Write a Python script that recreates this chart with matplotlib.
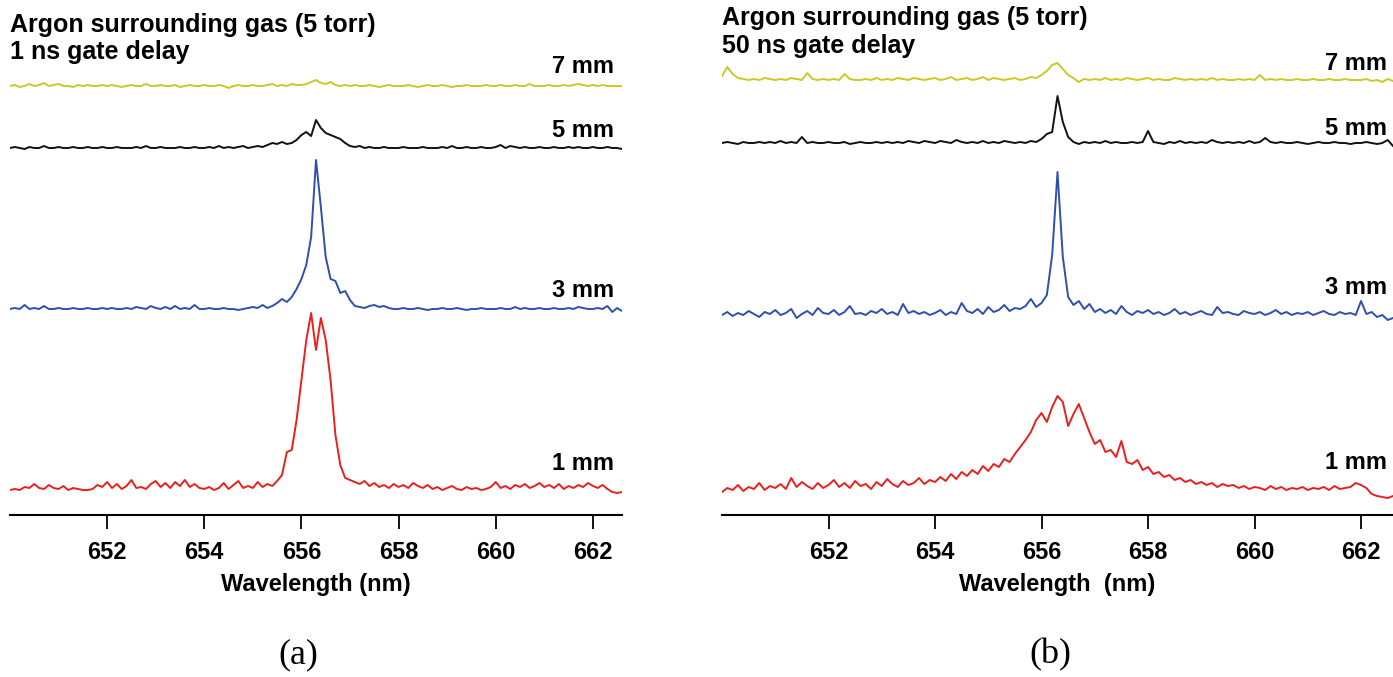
import numpy as np
import matplotlib.pyplot as plt

plt.rcParams['font.family'] = ['Liberation Sans', 'DejaVu Sans']

# wavelength grid, nm
wl = np.round(np.arange(650.0, 662.65, 0.1), 1)

# (a) argon 5 torr, 1 ns gate delay  (intensity, arb. units)
a_7mm = [0, 1, -1, 0, 2, 0, 1, 3, 0, 1,
         2, 0, 0, -1, 1, 0, 1, 0, 0, 1,
         0, 1, 0, -1, 0, 1, 0, 0, 2, 0,
         0, 1, 0, 0, 1, -1, 0, 1, 0, 0,
         1, 0, 0, 1, 0, -2, 0, 1, 0, 0,
         1, 0, 0, 1, 2, 0, 1, 0, 2, 1,
         1, 2, 4, 6, 3, 2, 4, 1, 0, 1,
         0, 1, 0, 0, 1, 0, -1, 0, 1, 0,
         0, 0, 1, 0, -1, 0, 1, 0, 0, 1,
         0, -1, 0, 0, 1, 0, 0, 0, 1, 0,
         0, 1, 0, 0, 1, 0, 0, 2, 0, 0,
         0, 1, 0, 0, 1, 0, 1, 2, 1, 0,
         1, 0, 1, 0, 0, 0, 0]
a_5mm = [0, 1, 0, -1, 1, 0, 0, 2, 0, 0,
         1, 0, 0, 1, 0, 0, 1, 0, 0, 1,
         0, 0, 1, 0, 0, 0, 1, 0, 2, 0,
         0, 1, 0, 0, 0, 1, 0, 0, 1, 0,
         0, 1, 0, 2, 0, 1, 0, 1, 2, 0,
         1, 2, 1, 3, 5, 4, 6, 4, 5, 8,
         13, 16, 12, 28, 20, 15, 13, 11, 9, 5,
         2, 1, 2, 0, 1, 0, 0, 1, 0, 0,
         0, 1, 0, 0, 0, 1, 0, 0, 0, 1,
         0, 2, 0, 0, 1, 0, 0, 1, 0, 0,
         1, 3, 0, 2, 1, 0, 1, 0, 0, 1,
         0, 0, 1, 0, 0, 1, 0, 1, 0, 0,
         1, 0, 0, 1, 0, 0, -1]
a_3mm = [0, 1, 0, 4, 0, 1, 0, 3, 0, 0,
         1, 0, 0, 1, 0, 0, 1, 0, 0, 1,
         0, 1, 0, 0, 1, 0, 2, 1, 0, 3,
         1, 0, 2, 0, 3, 0, 1, 0, 4, 0,
         0, 1, 0, 0, 1, 0, 0, -1, 0, 1,
         2, 1, 4, 1, 3, 6, 10, 7, 12, 20,
         30, 44, 72, 149, 102, 52, 30, 28, 16, 18,
         9, 3, 2, 1, 3, 4, 2, 3, 1, 0,
         0, 1, 0, 0, 1, 0, -1, 0, 0, 1,
         0, 0, 1, 0, -1, 0, 0, 1, 0, 0,
         0, 1, 0, 0, 2, 0, 1, 0, 0, 1,
         0, 0, 1, 0, 0, 1, 0, 2, 1, 0,
         0, 1, 0, 3, -3, 1, -2]
a_1mm = [0, 1, 0, 3, 2, 6, 2, 1, 5, 2,
         1, 4, 0, 2, 1, 0, 0, 1, 5, 3,
         8, 2, 6, 1, 4, 10, 2, 3, 1, 6,
         9, 3, 7, 2, 8, 4, 10, 3, 6, 2,
         1, 3, 0, 2, 7, 1, 5, 9, 2, 4,
         2, 8, 3, 6, 4, 9, 15, 38, 40, 70,
         110, 150, 177, 140, 172, 150, 110, 55, 25, 12,
         10, 8, 6, 9, 4, 7, 3, 5, 2, 6,
         3, 5, 2, 7, 4, 2, 5, 1, 3, 0,
         2, 4, 1, 0, 3, 1, 2, 0, 1, 3,
         8, 2, 4, 1, 5, 3, 6, 2, 4, 7,
         3, 5, 2, 6, 1, 4, 2, 5, 3, 7,
         4, 2, 5, 1, -2, -3, -2]

# (b) argon 5 torr, 50 ns gate delay
b_7mm = [4, 13, 6, 2, 1, 0, 1, 0, 2, 1,
         0, 1, 0, 2, 1, 0, 7, 1, 0, 1,
         0, 1, 0, 6, 1, 0, 0, 1, 0, 2,
         0, 1, 0, 2, 1, 0, 2, 1, 0, 1,
         2, 0, 1, 3, 0, 1, 2, 0, 1, 3,
         0, 2, 1, 0, 1, 2, 0, 1, 3, 2,
         5, 9, 15, 17, 11, 5, 2, -2, 1, 0,
         1, 0, 2, 0, 1, 0, 2, 1, 0, 1,
         2, 0, 1, 0, 0, 2, 1, 0, 1, 0,
         1, 0, 2, 0, 1, 0, 0, 1, 0, 1,
         0, 5, 0, 1, 0, 1, 0, 0, 1, 0,
         0, 1, 0, 0, 1, 0, 0, 1, 0, 0,
         0, 1, -1, 0, -2, 1, -1]
b_5mm = [0, 1, 0, -1, 1, 0, 0, 1, 0, 1,
         0, 2, 0, 1, 0, 6, 0, 1, 0, 0,
         1, 0, 0, 1, -1, 0, 1, 0, 0, 1,
         0, 1, 0, 1, 0, 2, 1, 0, 2, 1,
         0, 2, 1, 0, 3, 1, 0, 1, 0, 2,
         0, 1, 0, 2, 1, 0, 1, 0, 2, 1,
         4, 9, 11, 47, 21, 6, 1, -1, 1, 0,
         1, 0, 2, 0, 1, 0, 0, 1, 0, 1,
         12, 1, 0, -1, 1, 0, 2, 0, 1, 0,
         1, 0, 3, 1, 0, 1, 0, 1, 0, 2,
         0, 1, 5, 1, 0, 1, 0, 0, 1, 0,
         -1, 0, 1, 0, 0, 1, 0, 0, -1, 0,
         0, 1, 0, -1, 0, 3, -3]
b_3mm = [0, 3, -1, 2, 0, 4, 1, -2, 3, 1,
         5, 0, 2, 6, -3, 1, 4, 0, 7, 2,
         1, 5, 0, 3, 9, 1, 2, 0, 4, 2,
         6, 1, 3, 0, 11, 2, 4, 1, 3, 0,
         2, 5, 0, 3, 1, 12, 4, 2, 6, 1,
         8, 3, 5, 10, 4, 7, 6, 9, 16, 8,
         12, 20, 60, 143, 58, 18, 10, 14, 6, 11,
         3, 6, 2, 5, 1, 9, 3, 0, 4, 2,
         5, 1, 3, 0, 2, 6, 1, 3, 0, 2,
         4, 1, 0, 8, 2, 3, 1, 0, 4, 2,
         1, 3, 0, 2, 5, 1, 3, 0, 2, 1,
         3, 0, 2, 4, 1, 0, 3, 1, 2, 0,
         14, 1, 3, -2, 0, -5, -3]
b_1mm = [0, 4, 2, 7, 1, 5, 3, 9, 2, 6,
         4, 8, 3, 14, 5, 10, 6, 3, 9, 4,
         7, 12, 5, 9, 4, 11, 6, 8, 3, 10,
         6, 13, 8, 5, 11, 7, 9, 14, 8, 12,
         10, 15, 11, 18, 13, 20, 16, 22, 18, 26,
         21, 28, 25, 33, 30, 38, 45, 52, 60, 72,
         79, 70, 85, 96, 90, 66, 78, 88, 74, 60,
         48, 52, 40, 42, 35, 51, 30, 28, 32, 22,
         25, 18, 20, 15, 17, 12, 14, 10, 12, 8,
         10, 7, 9, 5, 8, 6, 7, 4, 6, 3,
         5, 4, 2, 6, 3, 5, 2, 4, 3, 5,
         2, 4, 3, 5, 2, 6, 3, 4, 5, 9,
         7, 4, -2, -4, -5, -6, -4]

labels = ['1 mm', '3 mm', '5 mm', '7 mm']
colors = ['#e8201e', '#2f4fb0', '#111111', '#c9c928']
ticks = [652, 654, 656, 658, 660, 662]

panels = [
    dict(spectra=[a_1mm, a_3mm, a_5mm, a_7mm], offsets=[25, 206, 367, 429],
         label_base=[470, 297, 137, 73], label_x=614, rect=[10, 612],
         head=('Argon surrounding gas (5 torr)', '1 ns gate delay'), head_base=(32, 59),
         xlabel='Wavelength (nm)', tag='(a)', tag_x=298),
    dict(spectra=[b_1mm, b_3mm, b_5mm, b_7mm], offsets=[23, 200, 372, 435],
         label_base=[469, 294, 135, 70], label_x=1387, rect=[722, 671],
         head=('Argon surrounding gas (5 torr)', '50 ns gate delay'), head_base=(25, 53),
         xlabel='Wavelength  (nm)', tag='(b)', tag_x=1050),
]

W, H = 1393, 677
fig = plt.figure(figsize=(W / 100, H / 100), dpi=100)

for p in panels:
    x0, w = p['rect']
    ax = fig.add_axes([x0 / W, (H - 515) / H, w / W, 510 / H])
    for s, off, c in zip(p['spectra'], p['offsets'], colors):
        ax.plot(wl, np.array(s) + off, color=c, lw=1.4)
    for lab, ly in zip(labels, p['label_base']):
        fig.text(p['label_x'] / W, 1 - ly / H, lab, ha='right', va='baseline',
                 fontsize=17, fontweight='bold')
    ax.set_xlim(650.0, 662.6)
    ax.set_ylim(0, 510)
    for side in ['left', 'right', 'top']:
        ax.spines[side].set_visible(False)
    ax.spines['bottom'].set_linewidth(1.5)
    ax.set_yticks([])
    ax.set_xticks(ticks)
    ax.tick_params(axis='x', length=10, width=1.3, pad=9, labelsize=17)
    for t in ax.get_xticklabels():
        t.set_fontweight('bold')
    ax.set_xlabel(p['xlabel'], fontsize=17, fontweight='bold', labelpad=6)

    for txt, yb in zip(p['head'], p['head_base']):
        fig.text(x0 / W, 1 - yb / H, txt, ha='left', va='baseline',
                 fontsize=18, fontweight='bold')
    fig.text(p['tag_x'] / W, 1 - 655 / H, p['tag'], ha='center', va='center',
             fontsize=26, family='Liberation Serif')

fig.savefig('out.png', dpi=100)
